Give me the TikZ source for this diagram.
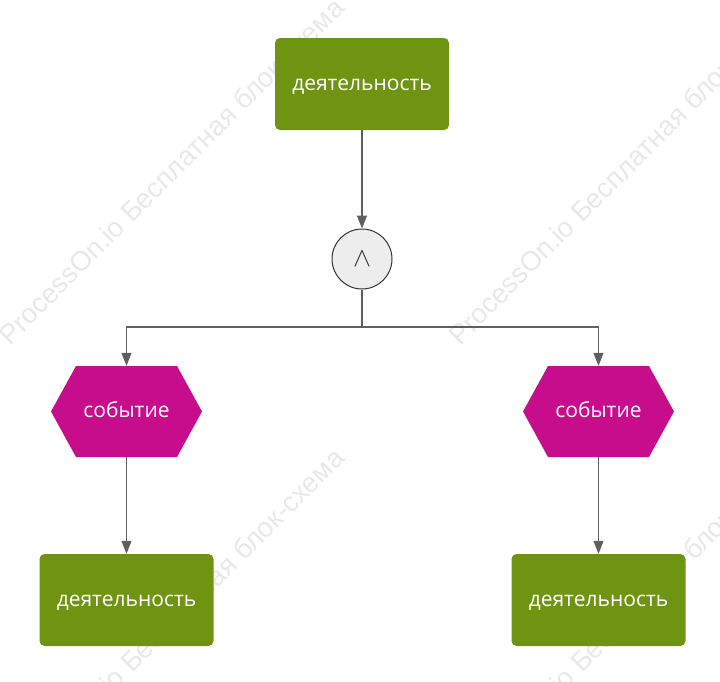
\documentclass[tikz,border=0pt]{standalone}
\usepackage{fontspec}
\usepackage{graphicx}
\setmainfont{Open Sans}
\newfontfamily\wmfont{Liberation Sans}
\usetikzlibrary{arrows.meta}
\definecolor{actgreen}{HTML}{6E9412}
\definecolor{evtpink}{HTML}{C80D8C}
\definecolor{linegray}{HTML}{5F5F5F}
\definecolor{gatefill}{HTML}{EDEDED}
\definecolor{gatestroke}{HTML}{333333}
\tikzset{
  actbox/.style={fill=actgreen, rounded corners=5pt, minimum width=174pt, minimum height=92pt,
    inner sep=0pt, text=white, font=\fontsize{21}{24}\selectfont, text height=13pt, text depth=0pt},
  evthex/.style={minimum width=151pt, minimum height=91pt, inner sep=0pt, text=white,
    font=\fontsize{21}{24}\selectfont, text height=12pt, text depth=0pt,
    path picture={\fill[evtpink] (path picture bounding box.west)
      -- ([xshift=25pt]path picture bounding box.north west)
      -- ([xshift=-25pt]path picture bounding box.north east)
      -- (path picture bounding box.east)
      -- ([xshift=-25pt]path picture bounding box.south east)
      -- ([xshift=25pt]path picture bounding box.south west) -- cycle;}},
  gate/.style={circle, fill=gatefill, draw=gatestroke, line width=1pt, minimum size=60pt, inner sep=0pt,
    text=gatestroke},
  conn/.style={draw=linegray, line width=1.1pt},
  arr/.style={conn, -{Triangle[width=10pt,length=13pt]}},
  wm/.style={text=black!9, rotate=45, font=\wmfont\fontsize{27.5}{30}\selectfont}
}
\begin{document}
\begin{tikzpicture}[x=1pt,y=-1pt]
\useasboundingbox (0,0) rectangle (720,681);
% watermarks
\node[wm] (w1) at (171,171) {ProcessOn.io Бесплатная блок-схема};
\node[wm] (w2) at (621,171) {ProcessOn.io Бесплатная блок-схема};
\node[wm] (w3) at (171,621) {ProcessOn.io Бесплатная блок-схема};
\node[wm] (w4) at (621,621) {ProcessOn.io Бесплатная блок-схема};
% nodes
\node[actbox] (a0) at (362,84) {деятельность};
\node[gate] (g) at (362,259) {\scalebox{2.7}{$\wedge$}};
\node[evthex] (e1) at (126.5,411.5) {событие};
\node[evthex] (e2) at (598.5,411.5) {событие};
\node[actbox] (a1) at (126.5,600) {деятельность};
\node[actbox] (a2) at (598.5,600) {деятельность};
% connectors
\draw[arr] (a0.south) -- (g.north);
\draw[conn] (g.south) -- (362,327) coordinate (j);
\draw[arr] (j) -| (e1.north);
\draw[arr] (j) -| (e2.north);
\draw[arr] (e1.south) -- (a1.north);
\draw[arr] (e2.south) -- (a2.north);
\end{tikzpicture}
\end{document}
